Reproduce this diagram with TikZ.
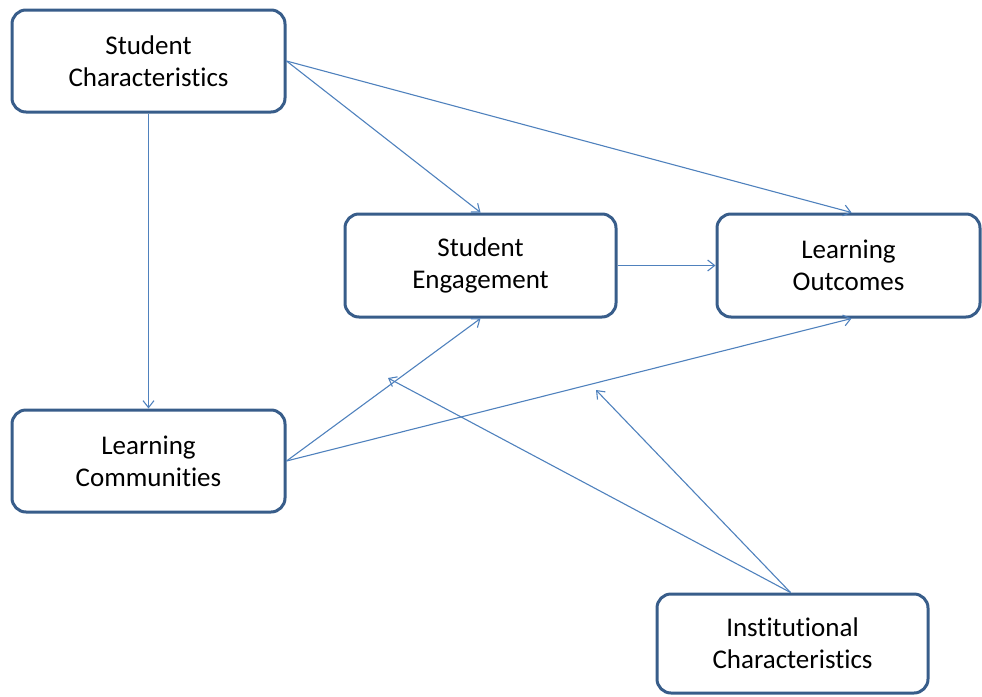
\documentclass[tikz,border=0pt]{standalone}
\usepackage{fontspec}
\setmainfont{Carlito}[Ligatures=NoCommon]
\usetikzlibrary{arrows.meta}
\definecolor{boxc}{RGB}{56,93,138}
\definecolor{arrc}{RGB}{79,129,189}
\begin{document}
\begin{tikzpicture}[x=1pt,y=-1pt,
  box/.style={draw=boxc, line width=3pt, rounded corners=14pt, fill=white,
    align=center, inner sep=0pt, font=\fontsize{27}{32}\selectfont},
  conn/.style={draw=arrc, line width=1.1pt, -{Straight Barb[length=7pt,width=11pt]}}]
\useasboundingbox (0,0) rectangle (982,696);
\node[box, minimum width=273pt, minimum height=102pt] (sc) at (148.5,61) {Student\\Characteristics};
\node[box, minimum width=271pt, minimum height=103pt] (se) at (480.5,265.5) {Student\\Engagement};
\node[box, minimum width=263pt, minimum height=103pt] (lo) at (848.5,265.5) {Learning\\Outcomes};
\node[box, minimum width=273pt, minimum height=102pt] (lc) at (148.5,461) {Learning\\Communities};
\node[box, minimum width=271pt, minimum height=99pt] (ic) at (792.5,643.5) {Institutional\\Characteristics};
\coordinate (m1) at (388,378);
\coordinate (m2) at (596,390);
\draw[conn] (sc.south) -- (lc.north);
\draw[conn] (sc.east) -- (se.north);
\draw[conn] (sc.east) -- ([xshift=3pt]lo.north);
\draw[conn] (se.east) -- (lo.west);
\draw[conn] (lc.east) -- (se.south);
\draw[conn] (lc.east) -- ([xshift=3pt]lo.south);
\draw[conn] ([xshift=-2pt]ic.north) -- (m1);
\draw[conn] ([xshift=-2pt]ic.north) -- (m2);
\end{tikzpicture}
\end{document}
